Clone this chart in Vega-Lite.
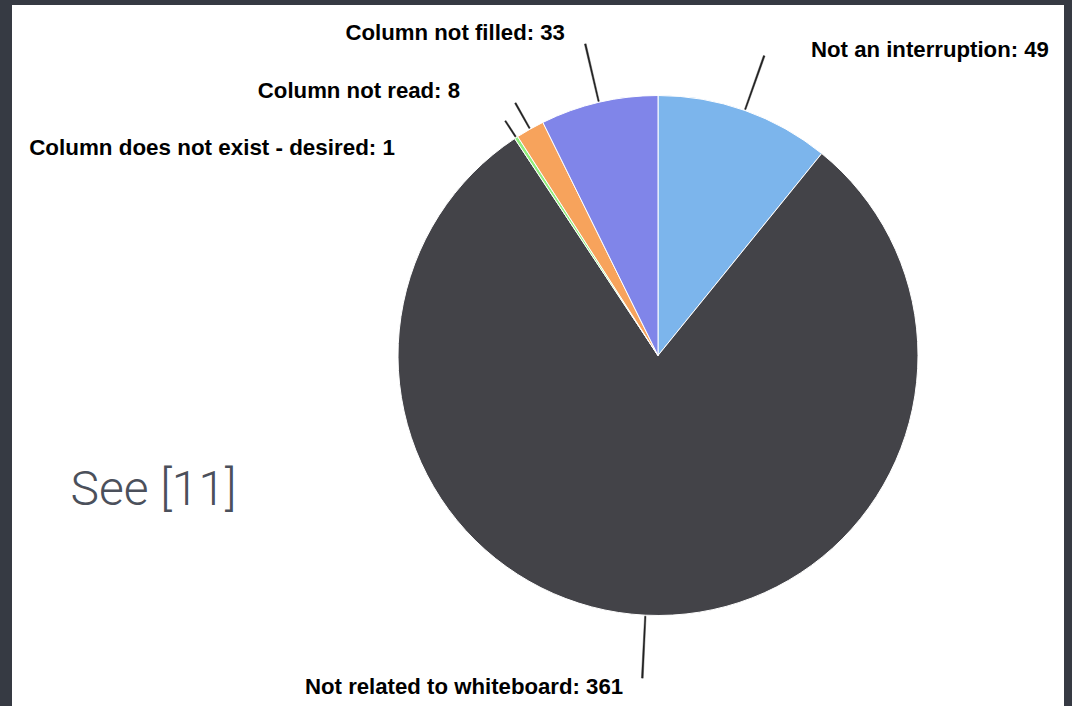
{
  "$schema": "https://vega.github.io/schema/vega-lite/v6.json",
  "background": "#363a43",
  "padding": {"left": 12, "top": 5, "right": 8, "bottom": 0},
  "autosize": {"type": "pad"},
  "bounds": "flush",
  "spacing": 0,
  "datasets": {
    "slices": [
      {"category": "Not an interruption", "count": 49},
      {"category": "Not related to whiteboard", "count": 361},
      {"category": "Column does not exist - desired", "count": 1},
      {"category": "Column not read", "count": 8},
      {"category": "Column not filled", "count": 33}
    ],
    "note": [{"note": "See [11]"}]
  },
  "hconcat": [
    {
      "width": 240,
      "height": 701,
      "view": {"fill": "#ffffff", "stroke": null},
      "data": {"name": "note"},
      "mark": {"type": "text", "font": "Roboto", "fontWeight": 300, "fontSize": 48, "fill": "#4b505b", "align": "center", "baseline": "alphabetic", "dx": 21.5, "dy": 149.5},
      "encoding": {"text": {"field": "note", "type": "nominal"}}
    },
    {
      "width": 812,
      "height": 701,
      "view": {"fill": "#ffffff", "stroke": null},
      "data": {"name": "slices"},
      "transform": [
        {"window": [{"op": "row_number", "as": "idx"}, {"op": "sum", "field": "count", "as": "cum"}], "frame": [null, 0]},
        {"calculate": "datum.cum - datum.count / 2", "as": "mid"},
        {"calculate": "datum.mid - 0.2", "as": "t0"},
        {"calculate": "datum.mid + 0.2", "as": "t1"},
        {"calculate": "datum.category + ': ' + datum.count", "as": "label"}
      ],
      "layer": [
        {
          "mark": {"type": "arc", "outerRadius": 260, "stroke": "#ffffff", "strokeWidth": 1},
          "encoding": {
            "theta": {"field": "count", "type": "quantitative", "stack": true},
            "order": {"field": "idx", "type": "quantitative"},
            "color": {
              "field": "category", "type": "nominal", "legend": null,
              "scale": {
                "domain": ["Not an interruption", "Not related to whiteboard", "Column does not exist - desired", "Column not read", "Column not filled"],
                "range": ["#7cb5ec", "#434348", "#90ed7d", "#f7a35c", "#8085e9"]
              }
            }
          }
        },
        {
          "transform": [{"filter": "datum.category == 'Not an interruption'"}],
          "mark": {"type": "arc", "innerRadius": 261, "outerRadius": 318, "fill": "#222222", "stroke": "#222222", "strokeWidth": 0.4},
          "encoding": {"theta": {"field": "t0", "type": "quantitative", "stack": null}, "theta2": {"field": "t1"}}
        },
        {
          "transform": [{"filter": "datum.category == 'Not related to whiteboard'"}],
          "mark": {"type": "arc", "innerRadius": 261, "outerRadius": 323, "fill": "#222222", "stroke": "#222222", "strokeWidth": 0.4},
          "encoding": {"theta": {"field": "t0", "type": "quantitative", "stack": null}, "theta2": {"field": "t1"}}
        },
        {
          "transform": [{"filter": "datum.category == 'Column does not exist - desired'"}],
          "mark": {"type": "arc", "innerRadius": 261, "outerRadius": 280, "fill": "#222222", "stroke": "#222222", "strokeWidth": 0.4},
          "encoding": {"theta": {"field": "t0", "type": "quantitative", "stack": null}, "theta2": {"field": "t1"}}
        },
        {
          "transform": [{"filter": "datum.category == 'Column not read'"}],
          "mark": {"type": "arc", "innerRadius": 261, "outerRadius": 290, "fill": "#222222", "stroke": "#222222", "strokeWidth": 0.4},
          "encoding": {"theta": {"field": "t0", "type": "quantitative", "stack": null}, "theta2": {"field": "t1"}}
        },
        {
          "transform": [{"filter": "datum.category == 'Column not filled'"}],
          "mark": {"type": "arc", "innerRadius": 261, "outerRadius": 320, "fill": "#222222", "stroke": "#222222", "strokeWidth": 0.4},
          "encoding": {"theta": {"field": "t0", "type": "quantitative", "stack": null}, "theta2": {"field": "t1"}}
        },
        {
          "transform": [{"filter": "datum.category == 'Not an interruption'"}],
          "mark": {"type": "text", "radius": 318, "align": "left", "baseline": "alphabetic", "dx": 46.8, "dy": 1.2, "font": "Liberation Sans", "fontWeight": "bold", "fontSize": 22.2, "fill": "#000000"},
          "encoding": {"theta": {"field": "mid", "type": "quantitative", "stack": null}, "text": {"field": "label", "type": "nominal"}}
        },
        {
          "transform": [{"filter": "datum.category == 'Not related to whiteboard'"}],
          "mark": {"type": "text", "radius": 323, "align": "right", "baseline": "alphabetic", "dx": -19.2, "dy": 15.9, "font": "Liberation Sans", "fontWeight": "bold", "fontSize": 22.2, "fill": "#000000"},
          "encoding": {"theta": {"field": "mid", "type": "quantitative", "stack": null}, "text": {"field": "label", "type": "nominal"}}
        },
        {
          "transform": [{"filter": "datum.category == 'Column does not exist - desired'"}],
          "mark": {"type": "text", "radius": 278, "align": "right", "baseline": "alphabetic", "dx": -111.4, "dy": 32.5, "font": "Liberation Sans", "fontWeight": "bold", "fontSize": 22.4, "fill": "#000000"},
          "encoding": {"theta": {"field": "mid", "type": "quantitative", "stack": null}, "text": {"field": "label", "type": "nominal"}}
        },
        {
          "transform": [{"filter": "datum.category == 'Column not read'"}],
          "mark": {"type": "text", "radius": 288, "align": "right", "baseline": "alphabetic", "dx": -56.3, "dy": -6.7, "font": "Liberation Sans", "fontWeight": "bold", "fontSize": 22.2, "fill": "#000000"},
          "encoding": {"theta": {"field": "mid", "type": "quantitative", "stack": null}, "text": {"field": "label", "type": "nominal"}}
        },
        {
          "transform": [{"filter": "datum.category == 'Column not filled'"}],
          "mark": {"type": "text", "radius": 320, "align": "right", "baseline": "alphabetic", "dx": -20.3, "dy": -3.9, "font": "Liberation Sans", "fontWeight": "bold", "fontSize": 22.2, "fill": "#000000"},
          "encoding": {"theta": {"field": "mid", "type": "quantitative", "stack": null}, "text": {"field": "label", "type": "nominal"}}
        }
      ]
    }
  ],
  "config": {"view": {"stroke": null, "fill": "#ffffff"}, "style": {"cell": {"fill": "#ffffff", "stroke": null}}}
}
